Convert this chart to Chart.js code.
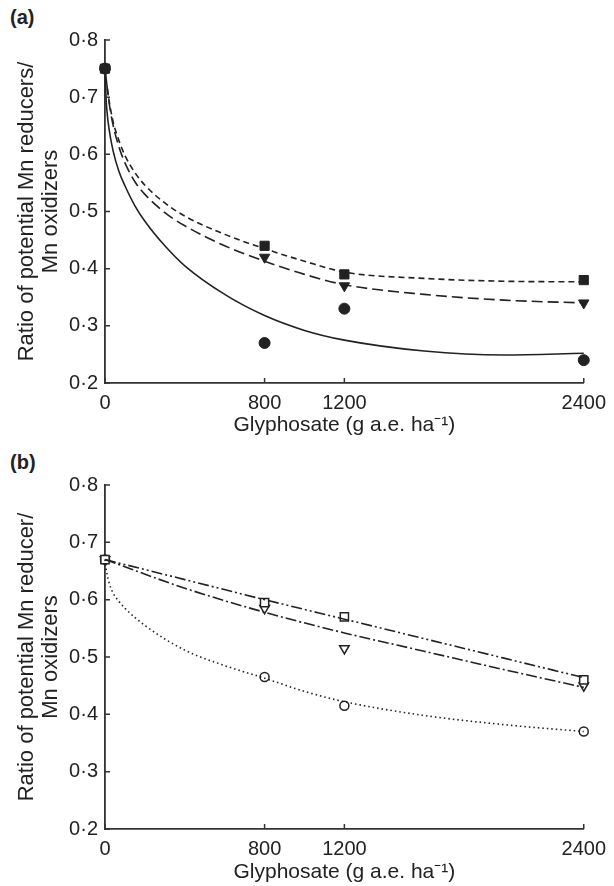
<!DOCTYPE html>
<html>
<head>
<meta charset="utf-8">
<script src="https://cdn.jsdelivr.net/npm/chart.js@4"></script>
<style>
  body { margin:0; background:#fff; width:614px; height:886px; position:relative; overflow:hidden; }
  canvas { position:absolute; left:0; }
  .tag { position:absolute; left:10px; font:bold 20px "Liberation Sans", Arial, sans-serif; color:#222; }
</style>
</head>
<body>
<div class="tag" style="top:6px">(a)</div>
<div class="tag" style="top:451px">(b)</div>
<canvas id="chartA" width="614" height="443" style="top:0"></canvas>
<canvas id="chartB" width="614" height="441" style="top:445px"></canvas>
<script>
// Дозы глифосата (г д.в./га)
const doses = [0, 800, 1200, 2400];
const yTicks = [0.2, 0.3, 0.4, 0.5, 0.6, 0.7, 0.8];

// Панель (a): измеренные точки
const aSquares   = [0.75, 0.44, 0.39, 0.38];
const aTriangles = [0.75, 0.42, 0.37, 0.34];
const aCircles   = [0.75, 0.27, 0.33, 0.24];

// Панель (a): подогнанные кривые
const aCurveDoses    = [0, 5, 10, 20, 40, 70, 100, 150, 200, 300, 400, 600, 800, 1000, 1200, 1600, 2000, 2400];
const aFitSquares    = [0.75, 0.735, 0.72, 0.695, 0.658, 0.624, 0.598, 0.568, 0.546, 0.515, 0.492, 0.46, 0.435, 0.413, 0.394, 0.383, 0.378, 0.377];
const aFitTriangles  = [0.75, 0.735, 0.72, 0.692, 0.652, 0.613, 0.585, 0.552, 0.53, 0.498, 0.475, 0.44, 0.413, 0.39, 0.372, 0.355, 0.345, 0.34];
const aFitCircles    = [0.75, 0.70, 0.675, 0.645, 0.607, 0.57, 0.545, 0.51, 0.483, 0.44, 0.405, 0.355, 0.318, 0.292, 0.275, 0.256, 0.249, 0.252];

// Панель (b): измеренные точки
const bSquares   = [0.67, 0.595, 0.57, 0.46];
const bTriangles = [0.67, 0.585, 0.515, 0.45];
const bCircles   = [0.67, 0.465, 0.415, 0.37];

// Панель (b): подогнанные линии
const bLineDoses    = [0, 400, 800, 1200, 1600, 2000, 2400];
const bFitSquares   = [0.67, 0.635, 0.60, 0.566, 0.532, 0.498, 0.464];
const bFitTriangles = [0.67, 0.62, 0.578, 0.542, 0.51, 0.478, 0.447];
const bCurveDoses   = [0, 5, 10, 20, 40, 70, 100, 200, 400, 600, 800, 1000, 1200, 1600, 2000, 2400];
const bFitCircles   = [0.67, 0.655, 0.645, 0.63, 0.612, 0.597, 0.585, 0.555, 0.512, 0.485, 0.463, 0.44, 0.422, 0.398, 0.382, 0.37];

const INK = '#222';
const FONT = '"Liberation Sans", Arial, sans-serif';

function pts(xs, ys) { return xs.map((x, i) => ({ x: x, y: ys[i] })); }

function curve(xs, ys, dash) {
  return { type:'line', data: pts(xs, ys), borderColor: INK, borderWidth: 1.6, borderDash: dash,
    pointRadius: 0, cubicInterpolationMode: 'monotone', fill: false, clip: false };
}
function marks(ys, style, r, filled, rot) {
  return { type:'scatter', data: pts(doses, ys), pointStyle: style, pointRadius: r, pointRotation: rot || 0,
    pointBackgroundColor: filled ? INK : '#fff', pointBorderColor: INK, pointBorderWidth: filled ? 1 : 1.5, clip: false };
}

// Засечки внутрь области графика
const innerTicks = {
  id: 'innerTicks',
  afterDraw(chart) {
    const { ctx, scales: { x, y } } = chart;
    ctx.save();
    ctx.strokeStyle = '#333';
    ctx.lineWidth = 1.5;
    ctx.beginPath();
    x.ticks.forEach(t => { const px = x.getPixelForValue(t.value); ctx.moveTo(px, y.bottom); ctx.lineTo(px, y.bottom - 5); });
    y.ticks.forEach(t => { const py = y.getPixelForValue(t.value); ctx.moveTo(x.left, py); ctx.lineTo(x.left + 5, py); });
    ctx.stroke();
    ctx.restore();
  }
};

function makeChart(id, datasets, yTitle, top, xHeight, titlePad) {
  return new Chart(document.getElementById(id), {
    data: { datasets: datasets },
    plugins: [innerTicks],
    options: {
      responsive: false, animation: false, devicePixelRatio: 1,
      layout: { padding: { top: top, right: 30, left: 0, bottom: 0 } },
      plugins: { legend: { display: false }, tooltip: { enabled: false } },
      scales: {
        x: {
          type: 'linear', min: 0, max: 2400,
          afterBuildTicks: s => { s.ticks = doses.map(v => ({ value: v })); },
          afterFit: s => { s.height = xHeight; },
          grid: { display: false, drawTicks: false },
          border: { display: true, color: '#333', width: 1.8 },
          ticks: { color: INK, font: { family: FONT, size: 20 }, padding: 8, maxRotation: 0,
            callback: v => String(v) },
          title: { display: true, text: 'Glyphosate (g a.e. ha⁻¹)', color: INK,
            font: { family: FONT, size: 21, lineHeight: 1.0 }, padding: { top: 0, bottom: titlePad } }
        },
        y: {
          type: 'linear', min: 0.2, max: 0.8,
          afterBuildTicks: s => { s.ticks = yTicks.map(v => ({ value: v })); },
          afterFit: s => { s.width = 105; },
          grid: { display: false, drawTicks: false },
          border: { display: true, color: '#333', width: 1.8 },
          ticks: { color: INK, font: { family: FONT, size: 20 }, padding: 7,
            callback: v => v.toFixed(1).replace('.', '·') },
          title: { display: true, text: yTitle, color: INK,
            font: { family: FONT, size: 22, lineHeight: 1.1 }, padding: { top: 15, bottom: 0 } }
        }
      }
    }
  });
}

makeChart('chartA', [
  curve(aCurveDoses, aFitSquares, [6, 4]),
  curve(aCurveDoses, aFitTriangles, [11, 5]),
  curve(aCurveDoses, aFitCircles, []),
  marks(aSquares, 'rect', 6.5, true),
  marks(aTriangles, 'triangle', 6, true, 180),
  marks(aCircles, 'circle', 5.5, true)
], ['Ratio of potential Mn reducers/', 'Mn oxidizers'], 40, 60, 7.5);

makeChart('chartB', [
  curve(bLineDoses, bFitSquares, [11, 3, 2, 3, 2, 3]),
  curve(bLineDoses, bFitTriangles, [11, 3, 2, 3]),
  curve(bCurveDoses, bFitCircles, [1.5, 3]),
  marks(bSquares, 'rect', 5.8, false),
  marks(bTriangles, 'triangle', 5.5, false, 180),
  marks(bCircles, 'circle', 4.5, false)
], ['Ratio of potential Mn reducer/', 'Mn oxidizers'], 40, 57, 3.5);
</script>
</body>
</html>
